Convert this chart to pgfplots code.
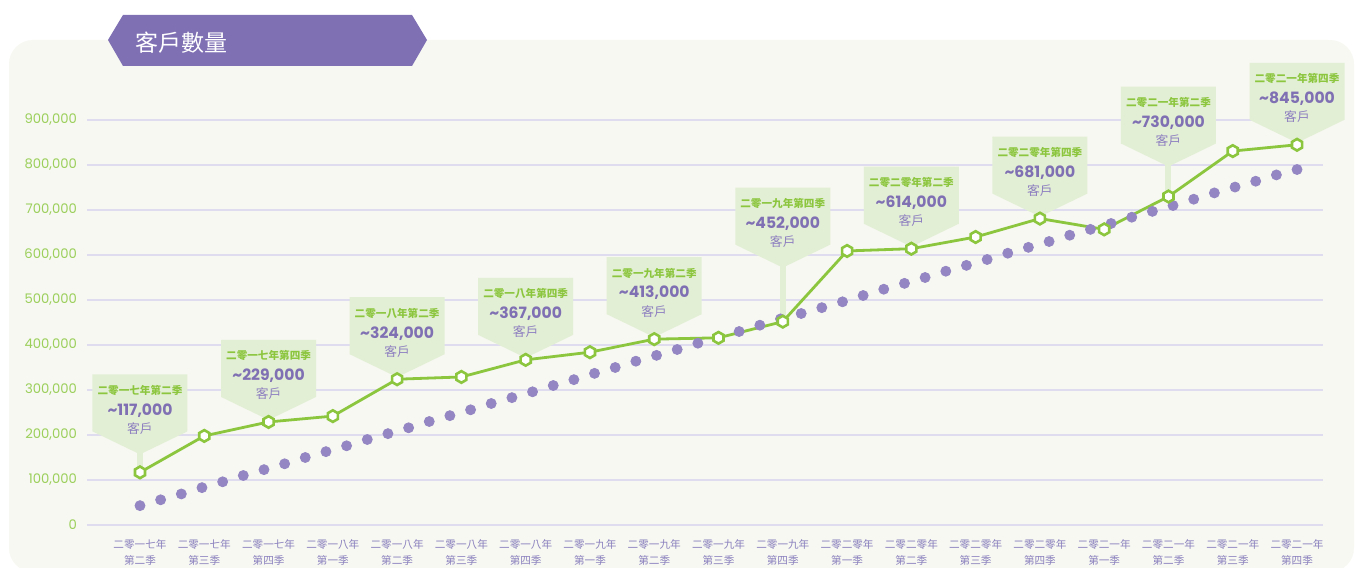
\documentclass[border=0pt]{standalone}
\usepackage{pgfplots}
\pgfplotsset{compat=1.18}
\usepackage{fontspec}
\setmainfont{Poppins}
\newfontfamily\cjk{Noto Sans CJK TC}
\definecolor{banner}{HTML}{7F70B4}
\definecolor{dotc}{HTML}{9486C3}
\definecolor{lgreen}{HTML}{8CC63F}
\definecolor{cfill}{HTML}{E3EFD5}
\definecolor{panel}{HTML}{F6F8F1}
\definecolor{gridc}{HTML}{DEDCEE}
\definecolor{valc}{HTML}{7F6FB3}
\definecolor{kehu}{HTML}{8D7FC0}
\definecolor{ytc}{HTML}{9BCF5A}
\definecolor{xtc}{HTML}{8A80BE}
\pgfdeclareplotmark{hex}{%
  \pgfpathmoveto{\pgfqpointpolar{90}{\pgfplotmarksize}}%
  \pgfpathlineto{\pgfqpointpolar{150}{\pgfplotmarksize}}%
  \pgfpathlineto{\pgfqpointpolar{210}{\pgfplotmarksize}}%
  \pgfpathlineto{\pgfqpointpolar{270}{\pgfplotmarksize}}%
  \pgfpathlineto{\pgfqpointpolar{330}{\pgfplotmarksize}}%
  \pgfpathlineto{\pgfqpointpolar{30}{\pgfplotmarksize}}%
  \pgfpathclose
  \pgfusepathqfillstroke}
\newcommand{\callout}[5]{%
  \fill[cfill] (axis cs:#1,#2) ++(-1.5pt,0pt) rectangle ++(3pt,{#3+2pt});
  \fill[cfill] (axis cs:#1,#2) ++(0pt,{#3+1pt}) -- ++(-23.75pt,11.5pt) -- ++(0pt,28.5pt) -- ++(47.5pt,0pt) -- ++(0pt,-28.5pt) -- cycle;
  \node[font=\cjk\bfseries\fontsize{5.3}{6}\selectfont, text=lgreen, inner sep=0pt, yshift={#3+33pt}] at (axis cs:#1,#2) {#4};
  \node[font=\bfseries\fontsize{7.8}{8}\selectfont, text=valc, inner sep=0pt, yshift={#3+23pt}] at (axis cs:#1,#2) {\textasciitilde#5};
  \node[font=\cjk\fontsize{6.4}{7}\selectfont, text=kehu, inner sep=0pt, yshift={#3+14pt}] at (axis cs:#1,#2) {客戶};
}
\begin{document}
\begin{tikzpicture}
\useasboundingbox (0,0) rectangle (678pt,284pt);
\fill[panel, rounded corners=12pt] (4.5pt,-2pt) rectangle (677pt,264pt);
\fill[banner] (54pt,264pt) -- (61.5pt,276.5pt) -- (206pt,276.5pt) -- (213.5pt,264pt) -- (206pt,251pt) -- (61.5pt,251pt) -- cycle;
\node[anchor=west, inner sep=0pt, text=white, font=\cjk\fontsize{11.5}{12}\selectfont] at (67.5pt,262.5pt) {客戶數量};
\begin{axis}[
  at={(43.5pt,21.5pt)}, anchor=south west,
  scale only axis, width=618pt, height=202.5pt,
  xmin=-0.8245, xmax=18.404, ymin=0, ymax=900000,
  axis line style={draw=none}, tick style={draw=none}, clip=false,
  ymajorgrids, grid style={color=gridc, line width=0.8pt},
  major tick length=0pt,
  ytick={0,100000,200000,300000,400000,500000,600000,700000,800000,900000},
  scaled y ticks=false,
  yticklabel style={/pgf/number format/.cd, fixed, 1000 sep={,}, assume math mode=true, /tikz/.cd, font=\fontsize{6.6}{7}\selectfont, text=ytc, xshift=-1.5pt},
  xtick={0,...,18},
  xticklabels={{二零一七年\\第二季},{二零一七年\\第三季},{二零一七年\\第四季},{二零一八年\\第一季},{二零一八年\\第二季},{二零一八年\\第三季},{二零一八年\\第四季},{二零一九年\\第一季},{二零一九年\\第二季},{二零一九年\\第三季},{二零一九年\\第四季},{二零二零年\\第一季},{二零二零年\\第二季},{二零二零年\\第三季},{二零二零年\\第四季},{二零二一年\\第一季},{二零二一年\\第二季},{二零二一年\\第三季},{二零二一年\\第四季}},
  xticklabel style={font=\cjk\fontsize{5.3}{8}\selectfont, align=center, text=xtc, yshift=-3.5pt},
]
\callout{0}{117000}{8pt}{二零一七年第二季}{117,000}
\callout{2}{229000}{0pt}{二零一七年第四季}{229,000}
\callout{4}{324000}{0pt}{二零一八年第二季}{324,000}
\callout{6}{367000}{0pt}{二零一八年第四季}{367,000}
\callout{8}{413000}{0pt}{二零一九年第二季}{413,000}
\callout{10}{452000}{26pt}{二零一九年第四季}{452,000}
\callout{12}{614000}{0pt}{二零二零年第二季}{614,000}
\callout{14}{681000}{0pt}{二零二零年第四季}{681,000}
\callout{16}{730000}{14pt}{二零二一年第二季}{730,000}
\callout{18}{845000}{0pt}{二零二一年第四季}{845,000}
\addplot[only marks, mark=*, mark size=2.5pt, color=dotc] coordinates {
(0,43000)(0.321,56000)(0.643,69000)(0.964,83000)(1.286,96000)(1.607,110000)(1.929,123000)(2.250,136000)(2.571,150000)(2.893,163000)
(3.214,176000)(3.536,190000)(3.857,203000)(4.179,216000)(4.500,230000)(4.821,243000)(5.143,256000)(5.464,270000)(5.786,283000)(6.107,296000)
(6.429,310000)(6.750,323000)(7.071,337000)(7.393,350000)(7.714,364000)(8.036,377000)(8.357,390000)(8.679,404000)(9.000,417000)(9.321,430000)
(9.643,444000)(9.964,458000)(10.286,470000)(10.607,483000)(10.929,496000)(11.250,510000)(11.571,524000)(11.893,537000)(12.214,550000)(12.536,564000)
(12.857,577000)(13.179,590000)(13.500,604000)(13.821,617000)(14.143,630000)(14.464,644000)(14.786,657000)(15.107,670000)(15.429,684000)(15.750,697000)
(16.071,710000)(16.393,724000)(16.714,738000)(17.036,751000)(17.357,764000)(17.679,778000)(18.000,790000)
};
\addplot[color=lgreen, line width=1.4pt, mark=hex, mark size=2.9pt, mark options={fill=white, line width=1.3pt, draw=lgreen}] coordinates {
(0,117000)(1,198000)(2,229000)(3,242000)(4,324000)(5,329000)(6,367000)(7,384000)(8,413000)(9,416000)
(10,452000)(11,609000)(12,614000)(13,640000)(14,681000)(15,657000)(16,730000)(17,831000)(18,845000)
};
\end{axis}
\end{tikzpicture}
\end{document}
